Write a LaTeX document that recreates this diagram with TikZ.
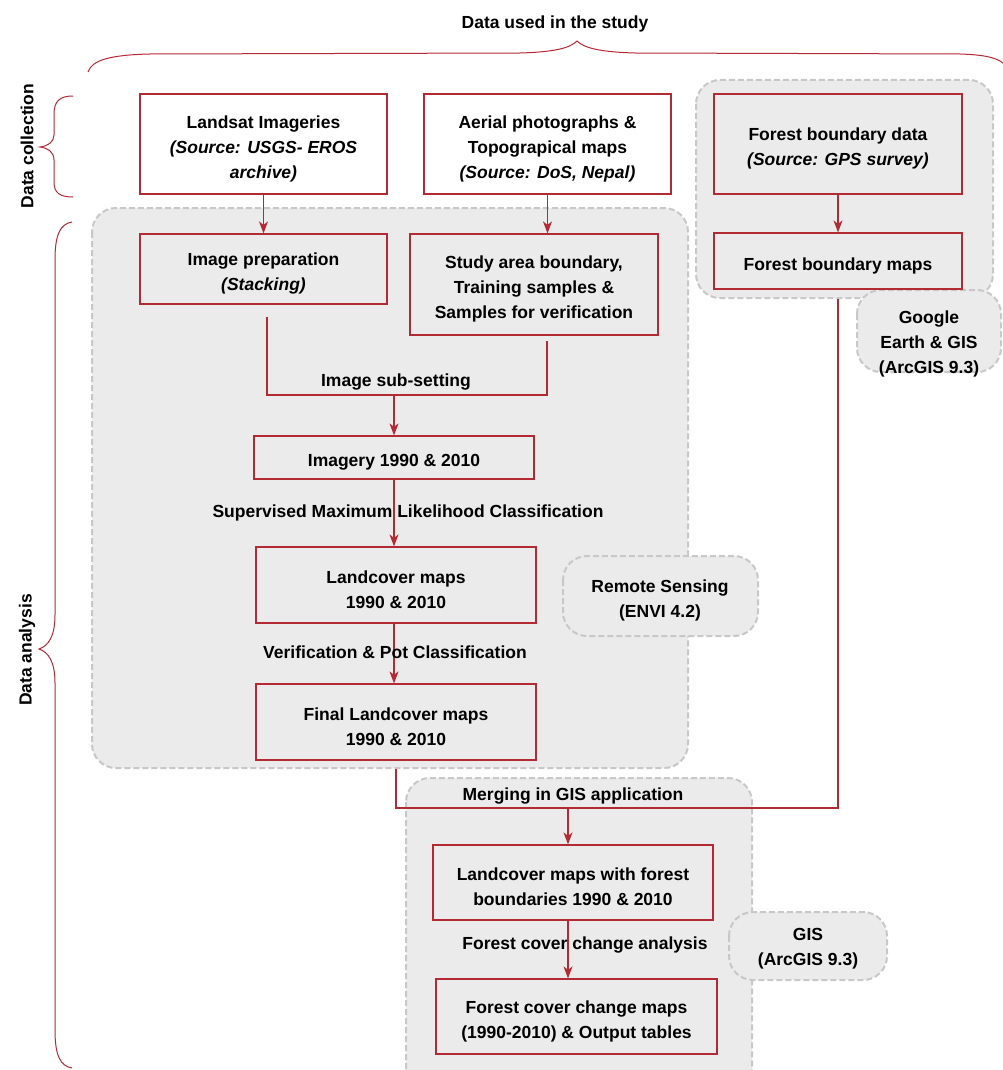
\documentclass[tikz,border=0pt]{standalone}
\usepackage{fontspec}
\setmainfont{Liberation Sans}
\usetikzlibrary{arrows.meta,calc}
\definecolor{boxred}{RGB}{180,42,52}
\definecolor{regfill}{RGB}{235,235,235}
\definecolor{regline}{RGB}{200,200,200}
\begin{document}
\begin{tikzpicture}[x=1pt,y=-1pt,
  every node/.style={font=\fontsize{17.5}{25}\selectfont\bfseries, text=black},
  box/.style={draw=boxred, line width=1.2pt, inner sep=0pt},
  btext/.style={inner sep=0pt, align=center, yshift=-4.5pt},
  region/.style={draw=regline, fill=regfill, dash pattern=on 6pt off 3pt, line width=2pt, rounded corners=24pt},
  lbl/.style={inner sep=0pt, align=center},
  conn/.style={draw=boxred, line width=1.2pt},
  arr/.style={conn, -{Stealth[length=12pt,width=9pt,inset=3.5pt]}},
  brace/.style={draw=boxred, line width=1pt}
]
\useasboundingbox (0,0) rectangle (1003,1070);
\fill[white] (0,0) rectangle (1003,1070);

% regions
\draw[region] (92,208) rectangle (688,768);
\draw[region] (696,80) rectangle (993,298);
\draw[region] (857,290) rectangle (1001,372);
\draw[region] (563,556) rectangle (758,636);
\draw[region] (406,778) rectangle (752,1100);
\draw[region] (729,912) rectangle (887,980);

% region labels
\node[lbl] (ge) at (929,344) {Google\\Earth \& GIS\\(ArcGIS 9.3)};
\node[lbl] (rs) at (660,600) {Remote Sensing\\(ENVI 4.2)};
\node[lbl] (gis) at (808,949) {GIS\\(ArcGIS 9.3)};

% title and braces
\node[lbl] (title) at (555,24) {Data used in the study};
\draw[brace] (88,72) .. controls (92,60) and (110,55) .. (150,54) -- (520,53) .. controls (555,52) and (570,48) .. (577,41) .. controls (584,48) and (600,52) .. (635,53) -- (960,54) .. controls (990,55) and (1000,59) .. (1006,66);
\node[lbl, rotate=90] (dc) at (27,146) {Data collection};
\draw[brace] (73,96) .. controls (60,96) and (54,101) .. (54,114) -- (54,135) .. controls (54,142) and (48,146) .. (40,147) .. controls (48,148) and (54,152) .. (54,160) -- (54,182) .. controls (54,193) and (60,197) .. (73,197);
\node[lbl, rotate=90] (da) at (27,650) {Data analysis};
\draw[brace] (72,222) .. controls (60,224) and (55,235) .. (55,260) -- (55,615) .. controls (55,637) and (48,646) .. (39,649) .. controls (48,652) and (55,661) .. (55,683) -- (55,1030) .. controls (55,1055) and (60,1066) .. (72,1068);

% boxes
\node[box, fill=white, minimum width=247pt, minimum height=100pt] (landsat) at (263.5,144) {};
\node[btext] (landsat-t) at (landsat.center) {Landsat Imageries\\\textit{(Source: USGS- EROS}\\\textit{archive)}};
\node[box, fill=white, minimum width=247pt, minimum height=100pt] (aerial) at (547.5,144) {};
\node[btext] (aerial-t) at (aerial.center) {Aerial photographs \&\\Topograpical maps\\\textit{(Source: DoS, Nepal)}};
\node[box, minimum width=248pt, minimum height=100pt] (fdata) at (838,144) {};
\node[btext] (fdata-t) at (fdata.center) {Forest boundary data\\\textit{(Source: GPS survey)}};
\node[box, minimum width=248pt, minimum height=56pt] (fmaps) at (838,261) {};
\node[btext] (fmaps-t) at (fmaps.center) {Forest boundary maps};
\node[box, minimum width=247pt, minimum height=70pt] (prep) at (263.5,269) {};
\node[btext] (prep-t) at (prep.center) {Image preparation\\\textit{(Stacking)}};
\node[box, minimum width=248pt, minimum height=101pt] (study) at (534,284.5) {};
\node[btext] (study-t) at (study.center) {Study area boundary,\\Training samples \&\\Samples for verification};
\node[box, minimum width=280pt, minimum height=43pt] (img) at (394,457.5) {};
\node[btext] (img-t) at (img.center) {Imagery 1990 \& 2010};
\node[box, minimum width=280pt, minimum height=76pt] (lc) at (396,585) {};
\node[btext] (lc-t) at (lc.center) {Landcover maps\\1990 \& 2010};
\node[box, minimum width=280pt, minimum height=76pt] (final) at (396,722) {};
\node[btext] (final-t) at (final.center) {Final Landcover maps\\1990 \& 2010};
\node[box, minimum width=280pt, minimum height=75pt] (lcf) at (573,882.5) {};
\node[btext] (lcf-t) at (lcf.center) {Landcover maps with forest\\boundaries 1990 \& 2010};
\node[box, minimum width=281pt, minimum height=75pt] (fcc) at (576.5,1016.5) {};
\node[btext] (fcc-t) at (fcc.center) {Forest cover change maps\\(1990-2010) \& Output tables};

% connectors
\draw[arr] (landsat.south) -- (landsat.south |- prep.north);
\draw[arr] (aerial.south) -- (aerial.south |- study.north);
\draw[arr] (fdata.south) -- (fmaps.north);

\coordinate (j1) at (267,395);
\coordinate (j2) at (547,395);
\draw[conn] ([yshift=-12pt]prep.south -| j1) -- (j1) -- (j2) -- ([yshift=-5pt]study.south -| j2);
\node[lbl] (sub) at (396,382) {Image sub-setting};
\draw[arr] (img.north |- j1) -- (img.north);

\draw[arr] (img.south) -- (img.south |- lc.north);
\node[lbl] (smlc) at (408,513) {Supervised Maximum Likelihood Classification};
\draw[arr] (lc.south -| img.south) -- (img.south |- final.north);
\node[lbl] (ver) at (395,652) {Verification \& Pot Classification};

\coordinate (m1) at (396,808);
\coordinate (m2) at (838,808);
\draw[conn] ([yshift=-8pt]final.south) -- (m1) -- (m2) -- ([yshift=-9pt]fmaps.south);
\node[lbl] (merge) at (573,796) {Merging in GIS application};
\coordinate (ax) at (568,808);
\draw[arr] (ax) -- (ax |- lcf.north);
\draw[arr] (ax |- lcf.south) -- (ax |- fcc.north);
\node[lbl] (fcca) at (585,945) {Forest cover change analysis};
\end{tikzpicture}
\end{document}
